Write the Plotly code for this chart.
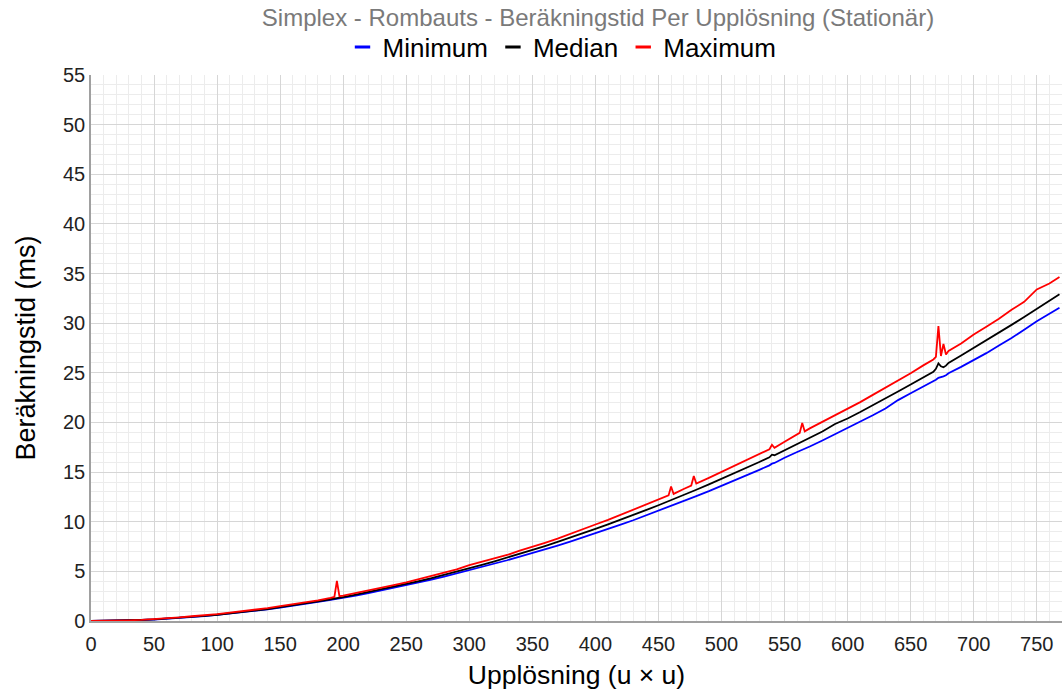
import plotly.graph_objects as go

# Resolution (u) values
x_res = [0, 10, 20, 30, 40, 50, 60, 70, 80, 90,
         100, 110, 120, 130, 140, 150, 160, 170, 180, 190,
         193, 195, 197, 200, 210, 220, 230, 240, 250, 260,
         270, 280, 290, 300, 310, 320, 330, 340, 350, 360,
         370, 380, 390, 400, 410, 420, 430, 440, 450, 458,
         460, 462, 470, 476, 478, 480, 490, 500, 510, 520,
         530, 538, 540, 542, 550, 560, 562, 564, 566, 570,
         580, 590, 600, 610, 620, 630, 640, 650, 660, 668,
         670, 672, 674, 676, 678, 680, 690, 700, 710, 720,
         730, 740, 750, 760, 768]

minimum = [0, 0.01, 0.02, 0.05, 0.10, 0.15, 0.22, 0.30, 0.39, 0.50,
           0.61, 0.74, 0.87, 1.02, 1.18, 1.35, 1.52, 1.71, 1.92, 2.12,
           2.18, 2.22, 2.26, 2.33, 2.56, 2.81, 3.07, 3.33, 3.60, 3.88,
           4.18, 4.48, 4.80, 5.12, 5.44, 5.77, 6.12, 6.48, 6.84, 7.22,
           7.60, 8.00, 8.41, 8.83, 9.26, 9.70, 10.15, 10.62, 11.10, 11.48,
           11.57, 11.66, 12.08, 12.38, 12.48, 12.58, 13.08, 13.60, 14.14, 14.68,
           15.23, 15.68, 15.85, 15.92, 16.45, 17.02, 17.12, 17.24, 17.34, 17.58,
           18.18, 18.80, 19.45, 20.08, 20.72, 21.40, 22.25, 22.95, 23.60, 24.15,
           24.30, 24.50, 24.55, 24.65, 24.75, 24.95, 25.60, 26.25, 26.98, 27.75,
           28.50, 29.35, 30.20, 30.95, 31.55]

median = [0, 0.01, 0.03, 0.06, 0.11, 0.16, 0.23, 0.32, 0.41, 0.51,
          0.63, 0.76, 0.90, 1.05, 1.21, 1.39, 1.57, 1.76, 1.97, 2.19,
          2.24, 2.28, 2.32, 2.41, 2.65, 2.91, 3.17, 3.44, 3.72, 4.02,
          4.32, 4.64, 4.96, 5.31, 5.65, 6.01, 6.38, 6.76, 7.15, 7.55,
          7.96, 8.38, 8.82, 9.27, 9.73, 10.19, 10.67, 11.16, 11.66, 12.06,
          12.17, 12.27, 12.69, 13.00, 13.10, 13.22, 13.76, 14.31, 14.87, 15.44,
          16.02, 16.49, 16.75, 16.70, 17.22, 17.84, 17.96, 18.08, 18.20, 18.46,
          19.09, 19.85, 20.40, 21.05, 21.72, 22.41, 23.11, 23.83, 24.53, 25.11,
          25.40, 25.95, 25.65, 25.55, 25.72, 25.99, 26.74, 27.50, 28.27, 29.05,
          29.83, 30.63, 31.44, 32.26, 32.92]

maximum = [0, 0.01, 0.03, 0.07, 0.12, 0.19, 0.30, 0.36, 0.48, 0.57,
           0.70, 0.84, 0.97, 1.15, 1.30, 1.49, 1.68, 1.90, 2.08, 2.33,
           2.42, 4.05, 2.50, 2.55, 2.80, 3.08, 3.35, 3.62, 3.90, 4.22,
           4.52, 4.85, 5.20, 5.62, 5.95, 6.30, 6.65, 7.08, 7.45, 7.88,
           8.30, 8.75, 9.22, 9.72, 10.18, 10.70, 11.22, 11.72, 12.22, 12.65,
           13.55, 12.80, 13.30, 13.65, 14.60, 13.85, 14.42, 15.02, 15.60, 16.20,
           16.82, 17.30, 17.75, 17.45, 18.05, 18.75, 18.95, 19.95, 19.10, 19.40,
           20.05, 20.72, 21.35, 22.05, 22.78, 23.50, 24.20, 24.95, 25.75, 26.35,
           26.60, 29.70, 26.70, 27.90, 26.85, 27.20, 27.95, 28.85, 29.65, 30.45,
           31.35, 32.15, 33.40, 34.00, 34.65]

series_names = ["Minimum", "Median", "Maximum"]
series_values = [minimum, median, maximum]
series_colors = ["#0000ff", "#000000", "#ff0000"]

x_tick_vals = list(range(0, 751, 50))
y_tick_vals = list(range(0, 56, 5))

fig = go.Figure()

for name, vals, col in zip(series_names, series_values, series_colors):
    fig.add_trace(go.Scatter(
        x=x_res, y=vals, mode="lines", name=name,
        line=dict(color=col, width=1.8), showlegend=False,
    ))

# legend entries drawn as short dashes
for name, col in zip(series_names, series_colors):
    fig.add_trace(go.Scatter(
        x=[None], y=[None], mode="markers", name=name,
        marker=dict(symbol="line-ew-open", size=11, color=col,
                    line=dict(color=col, width=3)),
    ))

font_family = "Liberation Sans, Arial, sans-serif"

fig.update_layout(
    width=1064, height=693,
    paper_bgcolor="white", plot_bgcolor="white",
    margin=dict(l=91, r=2, t=75, b=72, autoexpand=False),
    font=dict(family=font_family, size=20, color="#222222"),
    title=dict(
        text="Simplex - Rombauts - Beräkningstid Per Upplösning (Stationär)",
        x=598 / 1064, xanchor="center", xref="container",
        y=1 - 18 / 693, yanchor="middle", yref="container",
        font=dict(family=font_family, size=24, color="#7a7a7a"),
    ),
    legend=dict(
        orientation="h", x=562 / 1064, xanchor="center", xref="container",
        y=1 - 47 / 693, yanchor="middle", yref="container",
        font=dict(family=font_family, size=26, color="#000000"),
        itemwidth=30, tracegroupgap=0,
        bgcolor="rgba(0,0,0,0)",
    ),
    xaxis=dict(
        range=[0, 770],
        tickvals=x_tick_vals,
        ticks="", showline=True, linecolor="#a0a0a0", linewidth=1.5,
        showgrid=True, gridcolor="#d6d6d6", gridwidth=1,
        minor=dict(dtick=10, tick0=0, showgrid=True, gridcolor="#ececec", gridwidth=1),
        zeroline=False, ticklabelstandoff=4,
        tickfont=dict(size=20, color="#222222"),
        title=dict(text="Upplösning (u × u)", font=dict(size=26.5, color="#000000"), standoff=12),
    ),
    yaxis=dict(
        range=[0, 55],
        tickvals=y_tick_vals,
        ticks="", showline=True, linecolor="#a0a0a0", linewidth=1.5,
        showgrid=True, gridcolor="#d6d6d6", gridwidth=1,
        minor=dict(dtick=1, tick0=0, showgrid=True, gridcolor="#ececec", gridwidth=1),
        zeroline=False,
        tickfont=dict(size=20, color="#222222"),
        title=dict(text="Beräkningstid (ms)", font=dict(size=27, color="#000000"), standoff=20),
    ),
)

fig.write_html("out.html", config={"displayModeBar": False},
               post_script="document.body.style.margin='0px';")
